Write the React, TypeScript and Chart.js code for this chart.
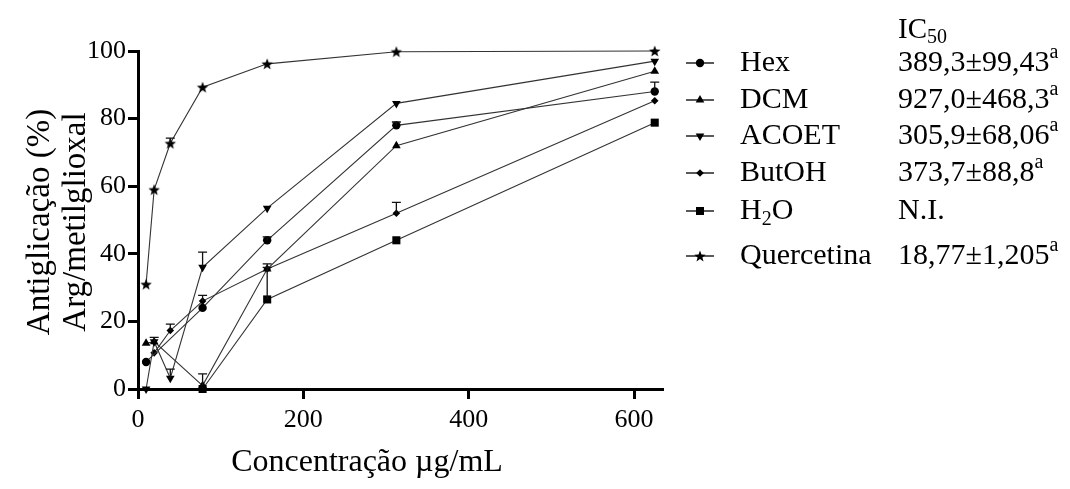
import React, { useEffect, useRef } from 'react';
import { Chart, registerables } from 'chart.js';

Chart.register(...registerables);

const FONT = "'Liberation Serif', 'Times New Roman', serif";

// Concentrations (µg/mL)
const concentrations = [9.77, 19.53, 39.06, 78.125, 156.25, 312.5, 625];

// Series values (% antiglycation)
const hexValues = [8, null, null, 24, 44, 78, 88];
const hexErrors = [0, 0, 0, 0, 1, 1, 2.8];
const dcmValues = [13.5, 14, null, 1, 35.5, 72, 94];
const dcmErrors = [0, 1.3, 0, 3.5, 1.5, 0, 0];
const acoetValues = [0, 14, 3.2, 36, 53.5, 84.5, 97];
const acoetErrors = [0, 0, 2.7, 4.5, 0, 0, 0];
const butohValues = [null, 10.7, 17.3, 26, 35.5, 52, 85.3];
const butohErrors = [0, 0, 1.9, 1.7, 0, 3.2, 0];
const h2oValues = [null, null, null, 0, 26.5, 44, 78.8];
const h2oErrors = [0, 0, 0, 0, 9.5, 0, 0];
const quercetinValues = [31, 59, 72.7, 89.3, 96.2, 99.8, 100];
const quercetinErrors = [0, 0, 1.5, 0, 0, 0, 0];

// Legend / labels
const seriesNames = ['Hex', 'DCM', 'ACOET', 'ButOH', 'H2O', 'Quercetina'];
const seriesMarkers = ['circle', 'triangle', 'triangleDown', 'diamond', 'square', 'star'];
const ic50Values = ['389,3±99,43', '927,0±468,3', '305,9±68,06', '373,7±88,8', 'N.I.', '18,77±1,205'];
const ic50Marks = ['a', 'a', 'a', 'a', '', 'a'];
const ic50Header = ['IC', '50'];

const xTicks = [0, 200, 400, 600];
const yTicks = [0, 20, 40, 60, 80, 100];
const xAxisMax = 635;
const xAxisTitle = 'Concentração µg/mL';
const yAxisTitleLines = ['Antiglicação (%)', 'Arg/metilglioxal'];

const allValues = [hexValues, dcmValues, acoetValues, butohValues, h2oValues, quercetinValues];
const allErrors = [hexErrors, dcmErrors, acoetErrors, butohErrors, h2oErrors, quercetinErrors];

function traceStar(ctx: CanvasRenderingContext2D, cx: number, cy: number, r: number) {
  ctx.beginPath();
  for (let i = 0; i < 10; i++) {
    const rad = i % 2 === 0 ? r : r * 0.42;
    const a = -Math.PI / 2 + (i * Math.PI) / 5;
    const px = cx + rad * Math.cos(a);
    const py = cy + rad * Math.sin(a);
    if (i === 0) ctx.moveTo(px, py);
    else ctx.lineTo(px, py);
  }
  ctx.closePath();
}

function makeStarCanvas(r: number) {
  const size = Math.ceil(r * 2 + 2);
  const c = document.createElement('canvas');
  c.width = size;
  c.height = size;
  const ctx = c.getContext('2d')!;
  traceStar(ctx, size / 2, size / 2 + 0.6, r);
  ctx.fillStyle = '#000';
  ctx.fill();
  return c;
}

function drawMarker(ctx: CanvasRenderingContext2D, kind: string, x: number, y: number) {
  ctx.save();
  ctx.fillStyle = '#000';
  ctx.beginPath();
  if (kind === 'circle') {
    ctx.arc(x, y, 4.2, 0, Math.PI * 2);
  } else if (kind === 'triangle' || kind === 'triangleDown') {
    const r = 5;
    const s = kind === 'triangle' ? 1 : -1;
    ctx.moveTo(x, y - s * r);
    ctx.lineTo(x + r * 0.866, y + s * r * 0.5);
    ctx.lineTo(x - r * 0.866, y + s * r * 0.5);
    ctx.closePath();
  } else if (kind === 'diamond') {
    const r = 3.8;
    ctx.moveTo(x, y - r);
    ctx.lineTo(x + r, y);
    ctx.lineTo(x, y + r);
    ctx.lineTo(x - r, y);
    ctx.closePath();
  } else if (kind === 'square') {
    ctx.rect(x - 4, y - 4, 8, 8);
  } else if (kind === 'star') {
    traceStar(ctx, x, y + 0.6, 6);
  }
  ctx.fill();
  ctx.restore();
}

function drawRich(ctx: CanvasRenderingContext2D, parts: [string, string][], x: number, y: number, size: number) {
  let cx = x;
  for (const [t, kind] of parts) {
    if (!t) continue;
    let fs = size;
    let dy = 0;
    if (kind === 'sub') {
      fs = Math.round(size * 0.68);
      dy = size * 0.28;
    } else if (kind === 'sup') {
      fs = Math.round(size * 0.66);
      dy = -size * 0.33;
    }
    ctx.font = `${fs}px ${FONT}`;
    ctx.fillText(t, cx, y + dy);
    cx += ctx.measureText(t).width;
  }
}

function nameParts(name: string): [string, string][] {
  const parts: [string, string][] = [];
  for (const ch of name) {
    const kind = /[0-9]/.test(ch) ? 'sub' : 'normal';
    const last = parts[parts.length - 1];
    if (last && last[1] === kind) last[0] += ch;
    else parts.push([ch, kind]);
  }
  return parts;
}

const errorBarPlugin = {
  id: 'errorBars',
  afterDatasetsDraw(chart: any) {
    const ctx = chart.ctx as CanvasRenderingContext2D;
    const xs = chart.scales.x;
    const ys = chart.scales.y;
    ctx.save();
    ctx.strokeStyle = '#111';
    ctx.lineWidth = 1.3;
    allValues.forEach((vals, si) => {
      const errs = allErrors[si];
      vals.forEach((v, i) => {
        const e = errs[i];
        if (v === null || !e) return;
        const px = xs.getPixelForValue(concentrations[i]);
        const y1 = ys.getPixelForValue(v);
        const y2 = ys.getPixelForValue(v + e);
        ctx.beginPath();
        ctx.moveTo(px, y1);
        ctx.lineTo(px, y2);
        ctx.moveTo(px - 4.5, y2);
        ctx.lineTo(px + 4.5, y2);
        ctx.stroke();
      });
    });
    ctx.restore();
  },
};

const textPlugin = {
  id: 'texts',
  afterDraw(chart: any) {
    const ctx = chart.ctx as CanvasRenderingContext2D;
    const area = chart.chartArea;
    ctx.save();
    ctx.fillStyle = '#000';
    // axis titles
    ctx.font = `32px ${FONT}`;
    ctx.textAlign = 'center';
    ctx.textBaseline = 'middle';
    ctx.fillText(xAxisTitle, 367, 463);
    ctx.font = `33px ${FONT}`;
    const yc = (area.top + area.bottom) / 2 + 2;
    [40, 76].forEach((xx, i) => {
      ctx.save();
      ctx.translate(xx, yc);
      ctx.rotate(-Math.PI / 2);
      ctx.fillText(yAxisTitleLines[i], 0, 0);
      ctx.restore();
    });
    // legend
    ctx.textAlign = 'left';
    ctx.textBaseline = 'middle';
    drawRich(ctx, [[ic50Header[0], 'normal'], [ic50Header[1], 'sub']], 898, 30, 29);
    const rows = [63, 100, 136, 173, 211, 256];
    seriesNames.forEach((name, i) => {
      const y = rows[i];
      ctx.strokeStyle = '#000';
      ctx.lineWidth = 1.3;
      ctx.beginPath();
      ctx.moveTo(686, y);
      ctx.lineTo(714, y);
      ctx.stroke();
      drawMarker(ctx, seriesMarkers[i], 700, y);
      drawRich(ctx, nameParts(name), 740, y, 30);
      drawRich(ctx, [[ic50Values[i], 'normal'], [ic50Marks[i], 'sup']], 898, y, 30);
    });
    ctx.restore();
  },
};

export default function App() {
  const ref = useRef<HTMLCanvasElement | null>(null);
  useEffect(() => {
    if (!ref.current) return;
    const star = makeStarCanvas(6);
    const pointStyles: any[] = ['circle', 'triangle', 'triangle', 'rectRot', 'rect', star];
    const rotations = [0, 0, 180, 0, 0, 0];
    const radii = [4.2, 5, 5, 3.8, 5.7, 6];
    const datasets = seriesNames.map((name, si) => ({
      label: name,
      data: concentrations.map((c, i) => ({ x: c, y: allValues[si][i] })),
      borderColor: '#333',
      borderWidth: 1.1,
      backgroundColor: '#000',
      pointBackgroundColor: '#000',
      pointBorderColor: '#000',
      pointBorderWidth: 0,
      pointStyle: pointStyles[si],
      pointRotation: rotations[si],
      pointRadius: radii[si],
      spanGaps: true,
      tension: 0,
      clip: false as any,
    }));
    const chart = new Chart(ref.current, {
      type: 'line',
      data: { datasets },
      options: {
        animation: false,
        responsive: false,
        devicePixelRatio: 1,
        layout: { padding: { left: 0, top: 51, right: 407, bottom: 0 } },
        plugins: { legend: { display: false }, tooltip: { enabled: false } },
        scales: {
          x: {
            type: 'linear',
            min: 0,
            max: xAxisMax,
            afterFit: (s: any) => {
              s.height = 100;
            },
            afterBuildTicks: (s: any) => {
              s.ticks = xTicks.map((v) => ({ value: v }));
            },
            ticks: { font: { family: FONT, size: 26 }, color: '#000', padding: 6, maxRotation: 0 },
            grid: { drawOnChartArea: false, drawTicks: true, tickLength: 10, tickWidth: 3, tickColor: '#000' },
            border: { display: true, width: 3, color: '#000' },
          },
          y: {
            type: 'linear',
            min: 0,
            max: 100,
            afterFit: (s: any) => {
              s.width = 138;
            },
            afterBuildTicks: (s: any) => {
              s.ticks = yTicks.map((v) => ({ value: v }));
            },
            ticks: { font: { family: FONT, size: 26 }, color: '#000', padding: 2 },
            grid: { drawOnChartArea: false, drawTicks: true, tickLength: 10, tickWidth: 3, tickColor: '#000' },
            border: { display: true, width: 3, color: '#000' },
          },
        },
      },
      plugins: [errorBarPlugin, textPlugin],
    });
    return () => chart.destroy();
  }, []);
  return (
    <div style={{ position: 'fixed', left: 0, top: 0, width: 1070, height: 489, background: '#fff' }}>
      <canvas ref={ref} width={1070} height={489} style={{ width: 1070, height: 489, display: 'block' }} />
    </div>
  );
}
